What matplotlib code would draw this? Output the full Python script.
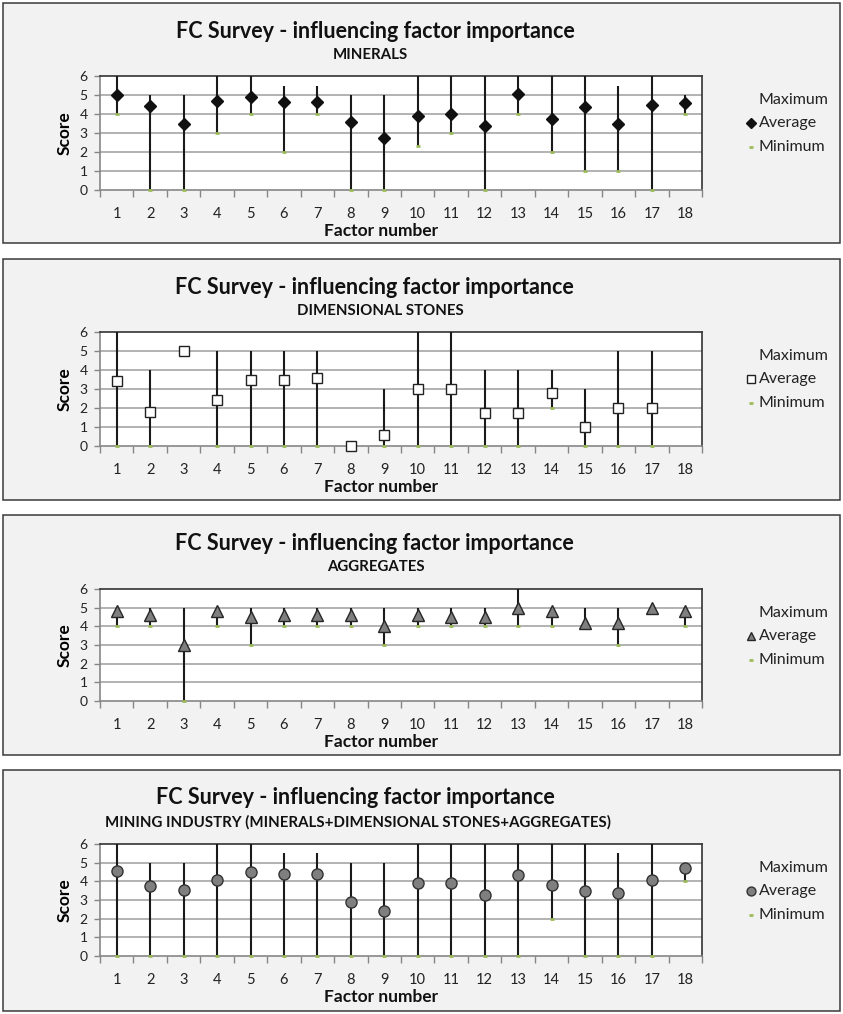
import numpy as np
import matplotlib
matplotlib.use("Agg")
import matplotlib.pyplot as plt
from matplotlib.patches import Rectangle
from matplotlib.lines import Line2D

plt.rcParams['font.family'] = ['Lato', 'DejaVu Sans']

W, H = 843, 1014

factors = list(range(1, 19))

minerals_max = [6, 5, 5, 6, 6, 5.5, 5.5, 5, 5, 6, 6, 6, 6, 6, 6, 5.5, 6, 5]
minerals_avg = [5.0, 4.4, 3.5, 4.67, 4.9, 4.63, 4.63, 3.56, 2.75, 3.92, 4.0, 3.38,
                5.05, 3.72, 4.38, 3.5, 4.5, 4.6]
minerals_min = [4, 0, 0, 3, 4, 2, 4, 0, 0, 2.33, 3, 0, 4, 2, 1, 1, 0, 4]

stones_max = [6, 4, 5, 5, 5, 5, 5, 0, 3, 6, 6, 4, 4, 4, 3, 5, 5, np.nan]
stones_avg = [3.4, 1.8, 5.0, 2.4, 3.5, 3.5, 3.6, 0.0, 0.6, 3.0, 3.0, 1.75, 1.75,
              2.8, 1.0, 2.0, 2.0, np.nan]
stones_min = [0, 0, 5, 0, 0, 0, 0, 0, 0, 0, 0, 0, 0, 2, 0, 0, 0, np.nan]

aggregates_max = [5, 5, 5, 5, 5, 5, 5, 5, 5, 5, 5, 5, 6, 5, 5, 5, 5, 5]
aggregates_avg = [4.8, 4.6, 3.0, 4.8, 4.5, 4.6, 4.6, 4.6, 4.0, 4.6, 4.5, 4.5,
                  5.0, 4.8, 4.2, 4.2, 5.0, 4.8]
aggregates_min = [4, 4, 0, 4, 3, 4, 4, 4, 3, 4, 4, 4, 4, 4, 4, 3, 5, 4]

mining_max = [6, 5, 5, 6, 6, 5.5, 5.5, 5, 5, 6, 6, 6, 6, 6, 6, 5.5, 6, 5]
mining_avg = [4.57, 3.75, 3.52, 4.09, 4.5, 4.39, 4.37, 2.87, 2.39, 3.93, 3.93,
              3.28, 4.34, 3.79, 3.47, 3.39, 4.09, 4.73]
mining_min = [0, 0, 0, 0, 0, 0, 0, 0, 0, 0, 0, 0, 0, 2, 0, 0, 0, 4]

title = "FC Survey - influencing factor importance"
legend_labels = ["Maximum", "Average", "Minimum"]

# marker style of the "Average" series in each panel
avg_styles = [
    dict(marker='D', ms=6.5, mfc='#111111', mec='#111111', mew=1),
    dict(marker='s', ms=7, mfc='white', mec='#222222', mew=1),
    dict(marker='^', ms=8, mfc='#7f7f7f', mec='#262626', mew=1),
    dict(marker='o', ms=8, mfc='#7f7f7f', mec='#333333', mew=1),
]

panels = [
    dict(top=3, bottom=243, plot=(76, 190), sub="MINERALS",
         tx=375, sx=370, data=(minerals_max, minerals_avg, minerals_min)),
    dict(top=259, bottom=500, plot=(332, 446), sub="DIMENSIONAL STONES",
         tx=374, sx=380, data=(stones_max, stones_avg, stones_min)),
    dict(top=515, bottom=755, plot=(589, 701), sub="AGGREGATES",
         tx=374, sx=376, data=(aggregates_max, aggregates_avg, aggregates_min)),
    dict(top=770, bottom=1011, plot=(844, 956),
         sub="MINING INDUSTRY (MINERALS+DIMENSIONAL STONES+AGGREGATES)",
         tx=355, sx=358, data=(mining_max, mining_avg, mining_min)),
]

GREEN = '#9bbb59'
AXGRAY = '#868686'


def fx(px):
    return px / W


def fy(py):
    return 1 - py / H


fig = plt.figure(figsize=(W / 100, H / 100), dpi=100)
fig.patch.set_facecolor('white')

PX0, PX1 = 100, 702

for i, p in enumerate(panels):
    # panel background, kept under the axes
    fig.patches.append(Rectangle((fx(3), fy(p['bottom'])), fx(837), (p['bottom'] - p['top']) / H,
                                 transform=fig.transFigure, facecolor='#f2f2f2',
                                 edgecolor='#3a3a3a', lw=1.1, zorder=-5))
    y0, y1 = p['plot']
    ax = fig.add_axes([fx(PX0), fy(y1), fx(PX1 - PX0), (y1 - y0) / H])
    ax.set_zorder(2)
    ax.set_facecolor('white')

    hi, avg, lo = [np.array(a, dtype=float) for a in p['data']]
    x = np.array(factors)

    ax.set_xlim(0.5, 18.5)
    ax.set_ylim(0, 6)
    for yv in range(1, 6):
        ax.axhline(yv, color='#a6a6a6', lw=1.2, zorder=1)

    # high-low bars, minimum ticks and average markers
    ax.vlines(x, lo, hi, color='#1a1a1a', lw=1.5, zorder=3)
    ax.plot(x, lo, linestyle='none', marker='_', ms=3.5, mew=2, color=GREEN,
            zorder=4, clip_on=False)
    ax.plot(x, avg, linestyle='none', zorder=5, clip_on=False, **avg_styles[i])

    for s in ['top', 'right']:
        ax.spines[s].set_color('#333333')
        ax.spines[s].set_linewidth(1.2)
    for s in ['left', 'bottom']:
        ax.spines[s].set_color(AXGRAY)
        ax.spines[s].set_linewidth(1.2)

    ax.set_yticks(range(0, 7))
    ax.set_xticks(x)
    ax.set_xticklabels([str(f) for f in factors], fontsize=10.5)
    ax.set_xticks(np.arange(0.5, 19, 1), minor=True)
    ax.tick_params(axis='x', which='major', length=0, pad=12, colors='#222222')
    ax.tick_params(axis='x', which='minor', length=5, width=1, color=AXGRAY,
                   direction='out')
    ax.tick_params(axis='y', length=4, width=1, color=AXGRAY, labelsize=10,
                   labelcolor='#222222', pad=5)

    ax.set_ylabel("Score", fontsize=12.5, fontweight='bold', labelpad=5)
    fig.text(fx(381), fy(y1 + 41), "Factor number", fontsize=12.5,
             fontweight='bold', ha='center', va='center', color='#111111')

    # titles
    fig.text(fx(p['tx']), fy(p['top'] + 28), title, fontsize=15.5,
             fontweight='bold', ha='center', va='center', color='#111111')
    fig.text(fx(p['sx']), fy(p['top'] + 52), p['sub'], fontsize=10.8,
             fontweight='bold', ha='center', va='center', color='#111111')

    # legend
    ly = [y0 + 24, y0 + 47, y0 + 71]
    for lab, yy in zip(legend_labels, ly):
        fig.text(fx(759), fy(yy), lab, fontsize=11.5, ha='left', va='center',
                 color='#222222')
    st = dict(avg_styles[i])
    st['ms'] = st['ms'] * 0.8
    fig.lines.append(Line2D([fx(751)], [fy(ly[1])], transform=fig.transFigure,
                            linestyle='none', **st))
    fig.lines.append(Line2D([fx(751)], [fy(ly[2])], transform=fig.transFigure,
                            linestyle='none', marker='_', ms=3.5, mew=2, color=GREEN))

fig.savefig("out.png", dpi=100)
